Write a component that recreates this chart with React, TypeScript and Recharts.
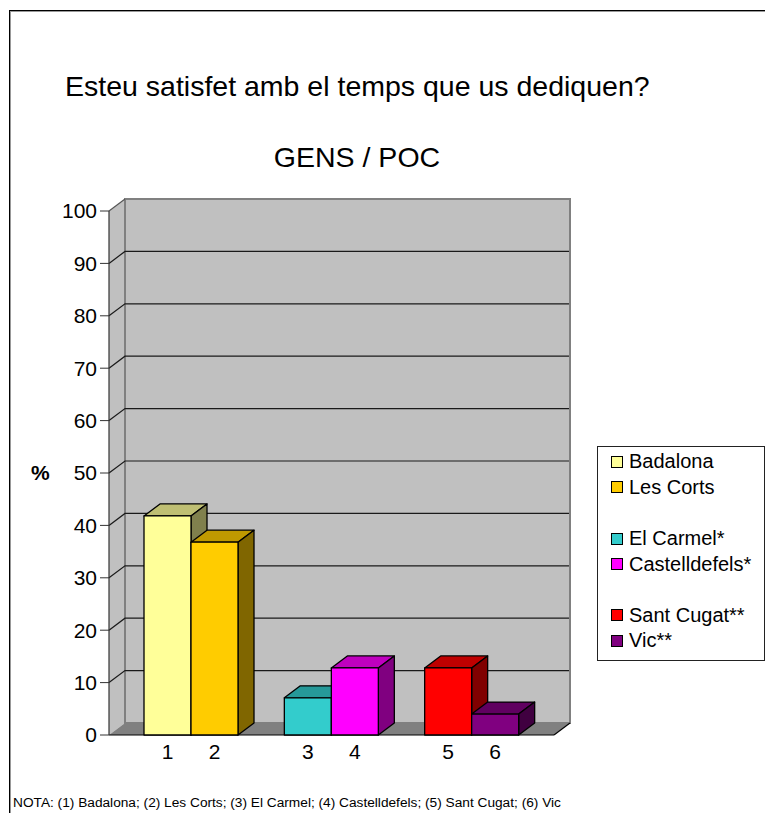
import React from 'react';
import {
  BarChart,
  Bar,
  XAxis,
  YAxis,
  ReferenceArea,
  ReferenceLine,
  Legend,
  LabelList,
} from 'recharts';

const cityNames = ['Badalona', 'Les Corts', 'El Carmel*', 'Castelldefels*', 'Sant Cugat**', 'Vic**'];
const barNumbers = ['1', '2', '3', '4', '5', '6'];
const shareValues = [41.8, 36.8, 7.1, 12.8, 12.8, 4.0];
const groupKeys = ['g1', 'g2', 'g3'];
const yTicks = [0, 10, 20, 30, 40, 50, 60, 70, 80, 90, 100];
const gridTicks = [10, 20, 30, 40, 50, 60, 70, 80, 90];

const frontColors = ['#FFFF99', '#FFCC00', '#33CCCC', '#FF00FF', '#FF0000', '#800080'];
const topColors = ['#BFBF73', '#BF9900', '#269999', '#BF00BF', '#BF0000', '#600060'];
const sideColors = ['#80804D', '#806600', '#1A6666', '#800080', '#800000', '#400040'];

// legend rows, null = blank line between pairs
const legendOrder = [0, 1, null, 2, 3, null, 4, 5];

const FONT = '"Liberation Sans", Arial, Helvetica, sans-serif';
const DX = 16;
const DY = 12;
const PAD = 12; // x axis padding, the walls span it too

const rows = groupKeys.map((g, i) => ({
  group: g,
  first: shareValues[2 * i],
  second: shareValues[2 * i + 1],
  firstNum: barNumbers[2 * i],
  secondNum: barNumbers[2 * i + 1],
  firstIdx: 2 * i,
  secondIdx: 2 * i + 1,
}));

function box3d(props: any, which: 'firstIdx' | 'secondIdx') {
  const { x, y, width: w, height: h, payload, index } = props;
  if (w == null || h == null) return <g />;
  const k = payload ? payload[which] : which === 'firstIdx' ? index * 2 : index * 2 + 1;
  const top = `${x},${y} ${x + DX},${y - DY} ${x + w + DX},${y - DY} ${x + w},${y}`;
  const side = `${x + w},${y} ${x + w + DX},${y - DY} ${x + w + DX},${y + h - DY} ${x + w},${y + h}`;
  return (
    <g stroke="#000" strokeWidth={1.3} strokeLinejoin="round">
      <polygon points={top} fill={topColors[k]} />
      <polygon points={side} fill={sideColors[k]} />
      <rect x={x} y={y} width={w} height={h} fill={frontColors[k]} />
    </g>
  );
}

function Walls(p: any) {
  const x = p.x - PAD;
  const w = p.width + 2 * PAD;
  const { y, height: h } = p;
  const leftWall = `${x},${y} ${x + DX},${y - DY} ${x + DX},${y + h - DY} ${x},${y + h}`;
  const floor = `${x},${y + h} ${x + w},${y + h} ${x + w + DX},${y + h - DY} ${x + DX},${y + h - DY}`;
  return (
    <g>
      <polygon points={leftWall} fill="#C0C0C0" />
      <rect x={x + DX} y={y - DY} width={w} height={h} fill="#C0C0C0" stroke="#808080" strokeWidth={2} />
      <polygon points={floor} fill="#808080" />
      <line x1={x} y1={y + h} x2={x + w} y2={y + h} stroke="#000" strokeWidth={1.2} />
      <line x1={x + w} y1={y + h} x2={x + w + DX} y2={y + h - DY} stroke="#000" strokeWidth={1.2} />
      <line x1={x} y1={y} x2={x + DX} y2={y - DY} stroke="#555" strokeWidth={1.2} />
    </g>
  );
}

function gridShape(p: any) {
  const d = `M${p.x1},${p.y1} L${p.x1 + DX},${p.y1 - DY} L${p.x2 + DX - 1},${p.y1 - DY}`;
  return <path d={d} fill="none" stroke="#1a1a1a" strokeWidth={1.2} />;
}

function LegendBox() {
  return (
    <div
      style={{
        width: 168,
        height: 215,
        border: '1px solid #222',
        boxSizing: 'border-box',
        paddingTop: 2,
        background: '#fff',
        fontFamily: FONT,
        fontSize: 20,
        color: '#000',
      }}
    >
      {legendOrder.map((k, i) => (
        <div key={i} style={{ height: 25.6, display: 'flex', alignItems: 'center', paddingLeft: 13 }}>
          {k !== null && (
            <>
              <span
                style={{
                  display: 'inline-block',
                  width: 12,
                  height: 12,
                  boxSizing: 'border-box',
                  border: '1px solid #000',
                  background: frontColors[k],
                  marginRight: 6,
                }}
              />
              <span style={{ whiteSpace: 'nowrap' }}>{cityNames[k]}</span>
            </>
          )}
        </div>
      ))}
    </div>
  );
}

export default function App() {
  return (
    <div style={{ position: 'relative', width: 765, height: 805, fontFamily: FONT, color: '#000' }}>
      <div
        style={{
          position: 'absolute',
          left: 1,
          top: 2,
          right: 0,
          bottom: 0,
          borderTop: '1px solid #000',
          borderLeft: '1px solid #000',
          boxShadow: 'inset 1px 1px 0 #999',
        }}
      />
      <div style={{ position: 'absolute', left: 57, top: 64, fontSize: 28.5, lineHeight: 1, whiteSpace: 'nowrap' }}>
        Esteu satisfet amb el temps que us dediquen?
      </div>
      <div
        style={{
          position: 'absolute',
          left: 349,
          top: 135,
          transform: 'translateX(-50%)',
          fontSize: 28.5,
          lineHeight: 1,
          whiteSpace: 'nowrap',
        }}
      >
        GENS / POC
      </div>
      <div style={{ position: 'absolute', left: 0, top: 0 }}>
        <BarChart
          width={765}
          height={805}
          data={rows}
          margin={{ top: 203, right: 219, bottom: 78, left: 0 }}
          barGap={0}
        >
          <ReferenceArea y1={0} y2={100} ifOverflow="visible" zIndex={-90} shape={Walls} />
          {gridTicks.map((t) => (
            <ReferenceLine key={t} y={t} ifOverflow="visible" zIndex={-80} shape={gridShape} />
          ))}
          <XAxis dataKey="group" hide padding={{ left: PAD, right: PAD }} />
          <YAxis
            type="number"
            domain={[0, 100]}
            ticks={yTicks}
            interval={0}
            width={101}
            tickSize={9}
            tickMargin={3}
            tick={{ fontSize: 21, fill: '#000' }}
            tickLine={{ stroke: '#333' }}
            axisLine={{ stroke: '#333', strokeWidth: 1.2 }}
            label={{ value: '%', position: 'insideLeft', offset: 23, fontSize: 21, fontWeight: 700, fill: '#000' }}
          />
          <Legend
            layout="vertical"
            align="center"
            verticalAlign="middle"
            wrapperStyle={{ left: 589, top: 438, width: 168, height: 215 }}
            content={() => <LegendBox />}
          />
          <Bar
            dataKey="first"
            barSize={47}
            isAnimationActive={false}
            shape={(p: any) => box3d(p, 'firstIdx')}
          >
            <LabelList dataKey="firstNum" position="bottom" offset={9} fontSize={21} fill="#000" />
          </Bar>
          <Bar
            dataKey="second"
            barSize={47}
            isAnimationActive={false}
            shape={(p: any) => box3d(p, 'secondIdx')}
          >
            <LabelList dataKey="secondNum" position="bottom" offset={9} fontSize={21} fill="#000" />
          </Bar>
        </BarChart>
      </div>
      <div style={{ position: 'absolute', left: 5, top: 788, fontSize: 13.7, lineHeight: 1, whiteSpace: 'nowrap' }}>
        NOTA: (1) Badalona; (2) Les Corts; (3) El Carmel; (4) Castelldefels; (5) Sant Cugat; (6) Vic
      </div>
    </div>
  );
}
